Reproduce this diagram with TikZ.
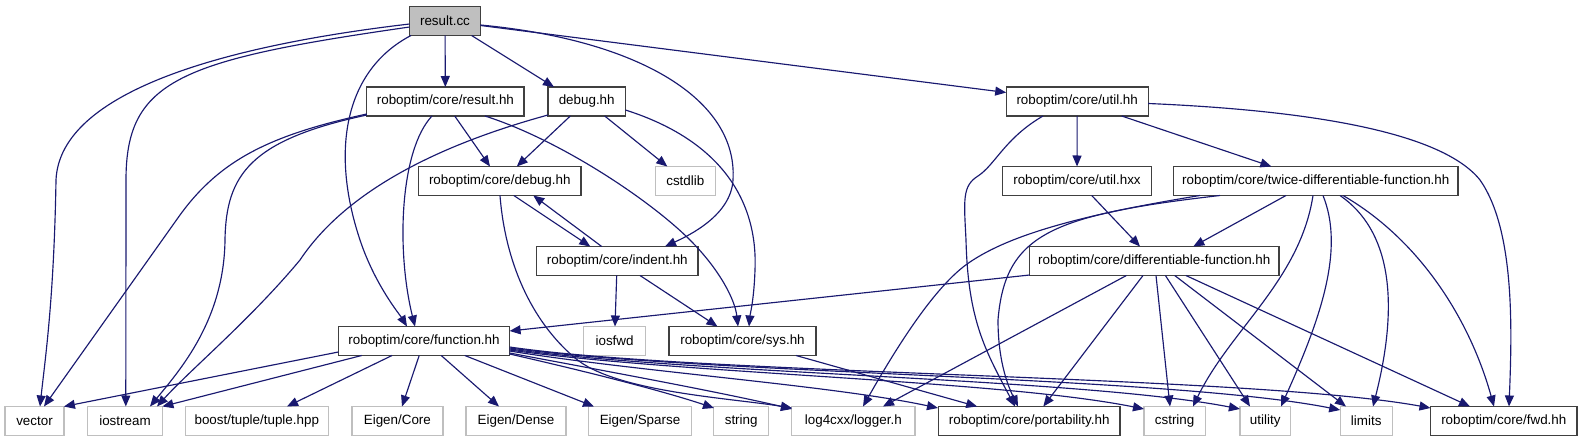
\documentclass[tikz,border=0pt]{standalone}
\usepackage{fontspec}
\setmainfont{Liberation Sans}
\usetikzlibrary{arrows.meta,calc}
\definecolor{edgec}{RGB}{25,25,112}
\definecolor{boxgray}{RGB}{191,191,191}
\definecolor{boxdark}{RGB}{64,64,64}
\begin{document}
\begin{tikzpicture}[x=1pt,y=-1pt,
  every node/.style={font=\fontsize{13.4}{15}\selectfont, inner sep=0pt, outer sep=0pt, minimum height=29pt, line width=1.3pt},
  inc/.style={draw=boxdark, fill=white},
  ext/.style={draw=boxgray, fill=white},
  cur/.style={draw=boxdark, fill=boxgray},
  e/.style={draw=edgec, line width=1.15pt, -{Triangle[length=11pt,width=9pt]}},
]
\fill[white] (0,0) rectangle (1583,443);
\useasboundingbox (0,0) rectangle (1583,443);

% nodes
\node[cur, minimum width=70.7] (rcc) at (445,21) {result.cc};
\node[inc, minimum width=157.2] (resh) at (445.4,101.5) {roboptim/core/result.hh};
\node[inc, minimum width=77.4] (dbg) at (586.7,101.5) {debug.hh};
\node[inc, minimum width=162.6] (cdbg) at (499.8,181) {roboptim/core/debug.hh};
\node[ext, minimum width=60.2] (cstdlib) at (685.3,181) {cstdlib};
\node[inc, minimum width=142] (util) at (1077.2,101.5) {roboptim/core/util.hh};
\node[inc, minimum width=148.5] (uhxx) at (1077,181) {roboptim/core/util.hxx};
\node[inc, minimum width=284.4] (twice) at (1315.8,181) {roboptim/core/twice-differentiable-function.hh};
\node[inc, minimum width=161.6] (indent) at (617.3,261) {roboptim/core/indent.hh};
\node[inc, minimum width=249.2] (diff) at (1154.3,261) {roboptim/core/differentiable-function.hh};
\node[inc, minimum width=171.2] (func) at (424,341) {roboptim/core/function.hh};
\node[ext, minimum width=61.6] (iosfwd) at (614.6,341) {iosfwd};
\node[inc, minimum width=147] (sysh) at (742.5,341) {roboptim/core/sys.hh};
\node[ext, minimum width=58.8] (vector) at (34.5,421) {vector};
\node[ext, minimum width=74.7] (iostream) at (125,421) {iostream};
\node[ext, minimum width=143] (tuple) at (256.8,421) {boost/tuple/tuple.hpp};
\node[ext, minimum width=91] (ecore) at (397.4,421) {Eigen/Core};
\node[ext, minimum width=99.8] (edense) at (516,421) {Eigen/Dense};
\node[ext, minimum width=102.8] (esparse) at (640,421) {Eigen/Sparse};
\node[ext, minimum width=55.2] (string) at (741.2,421) {string};
\node[ext, minimum width=123.4] (log) at (853.3,421) {log4cxx/logger.h};
\node[inc, minimum width=181.6] (port) at (1029.2,421) {roboptim/core/portability.hh};
\node[ext, minimum width=61.2] (cstring) at (1174.6,421) {cstring};
\node[ext, minimum width=50.6] (utility) at (1265.2,421) {utility};
\node[ext, minimum width=52] (limits) at (1366.2,421) {limits};
\node[inc, minimum width=146.6] (fwd) at (1503.8,421) {roboptim/core/fwd.hh};

% result.cc
\draw[e] ($(rcc)+(-35.4,3)$) .. controls (230,45) and (60,90) .. (56,180) .. controls (54,300) and (45,360) .. ($(vector)+(5.5,-14.5)$);
\draw[e] ($(rcc)+(-35.4,6)$) .. controls (180,60) and (126,80) .. (126,180) -- ($(iostream)+(0.8,-14.5)$);
\draw[e] ($(rcc)+(-34,14.5)$) .. controls (345,70) and (330,150) .. (360,240) .. controls (375,285) and (400,315) .. ($(func)+(-17,-14.5)$);
\draw[e] (rcc) -- (resh);
\draw[e] ($(rcc)+(26.6,14.5)$) -- ($(dbg)+(-32.7,-14.5)$);
\draw[e] ($(rcc)+(35.4,4)$) .. controls (640,40) and (738,100) .. (733,180) .. controls (731,215) and (690,235) .. ($(indent)+(47.7,-14.5)$);
\draw[e] (rcc) -- (util);

% result.hh
\draw[e] ($(resh)+(-78.6,12.5)$) .. controls (270,135) and (220,160) .. (180,215) -- ($(vector)+(9.5,-14.5)$);
\draw[e] ($(resh)+(-78.6,13.5)$) .. controls (250,140) and (226,175) .. (225,240) .. controls (224,320) and (180,370) .. ($(iostream)+(25,-14.5)$);
\draw[e] ($(resh)+(-13.4,14.5)$) .. controls (400,150) and (396,250) .. ($(func)+(-9,-14.5)$);
\draw[e] ($(resh)+(9.3,14.5)$) -- ($(cdbg)+(-9.8,-14.5)$);
\draw[e] ($(resh)+(39.6,14.5)$) .. controls (560,140) and (650,200) .. (690,240) .. controls (720,270) and (735,300) .. ($(sysh)+(-4.5,-14.5)$);

% debug.hh
\draw[e] ($(dbg)+(-38.7,13.5)$) .. controls (420,150) and (340,200) .. (300,260) .. controls (250,320) and (190,370) .. ($(iostream)+(32,-14.5)$);
\draw[e] ($(dbg)+(-16.4,14.5)$) -- ($(cdbg)+(17,-14.5)$);
\draw[e] ($(dbg)+(18,14.5)$) -- ($(cstdlib)+(-18,-14.5)$);
\draw[e] ($(dbg)+(38.7,8.5)$) .. controls (720,140) and (758,200) .. (755,270) .. controls (754,300) and (750,315) .. ($(sysh)+(6.5,-14.5)$);

% core/debug.hh and indent.hh
\draw[e] ($(cdbg)+(14,14.5)$) -- ($(indent)+(-27,-14.5)$);
\draw[e] ($(indent)+(-15.6,-14.5)$) -- ($(cdbg)+(33.5,14.5)$);
\draw[e] ($(cdbg)+(0.2,14.5)$) .. controls (505,260) and (530,320) .. (575,358) .. controls (615,392) and (730,398) .. ($(log)+(-61.3,-13)$);
\draw[e] ($(indent)+(-0.6,14.5)$) -- ($(iosfwd)+(0.4,-14.5)$);
\draw[e] ($(indent)+(22.7,14.5)$) -- ($(sysh)+(-25,-14.5)$);
\draw[e] ($(sysh)+(53.5,14.5)$) -- ($(port)+(-52,-14.5)$);

% function.hh
\draw[e] ($(func)+(-85.6,11)$) -- ($(vector)+(29.4,-14.5)$);
\draw[e] ($(func)+(-62.3,14.5)$) -- ($(iostream)+(37.4,-14.5)$);
\draw[e] ($(func)+(-32,14.5)$) -- ($(tuple)+(30.2,-14.5)$);
\draw[e] ($(func)+(-4.8,14.5)$) -- ($(ecore)+(4.6,-14.5)$);
\draw[e] ($(func)+(17.2,14.5)$) -- ($(edense)+(-17,-14.5)$);
\draw[e] ($(func)+(40.8,14.5)$) -- ($(esparse)+(-46,-14.5)$);
\draw[e] ($(func)+(85.6,13)$) .. controls (580,370) and (660,390) .. ($(string)+(-27.2,-13)$);
\draw[e] ($(func)+(85.6,12)$) .. controls (600,370) and (720,392) .. ($(log)+(-61.3,-12)$);
\draw[e] ($(func)+(85.6,10)$) .. controls (640,372) and (830,385) .. ($(port)+(-91.2,-13)$);
\draw[e] ($(func)+(85.6,9)$) .. controls (680,374) and (1000,380) .. ($(cstring)+(-30.6,-12)$);
\draw[e] ($(func)+(85.6,8)$) .. controls (690,374) and (1080,378) .. ($(utility)+(-25.3,-12)$);
\draw[e] ($(func)+(85.6,7)$) .. controls (700,374) and (1170,376) .. ($(limits)+(-26,-11)$);
\draw[e] ($(func)+(85.6,6)$) .. controls (700,375) and (1250,375) .. ($(fwd)+(-73.3,-13)$);

% util.hh
\draw[e] ($(util)+(-34.2,14.5)$) .. controls (1005,138) and (995,165) .. (978,176) .. controls (962,186) and (964,200) .. (966,240) .. controls (968,320) and (985,350) .. ($(port)+(-14.2,-14.5)$);
\draw[e] (util) -- (uhxx);
\draw[e] ($(util)+(44.5,14.5)$) -- ($(twice)+(-44.4,-14.5)$);
\draw[e] ($(util)+(71,2)$) .. controls (1300,110) and (1440,130) .. (1480,180) .. controls (1515,230) and (1512,330) .. ($(fwd)+(5.2,-14.5)$);
\draw[e] ($(uhxx)+(14.7,14.5)$) -- ($(diff)+(-14.3,-14.5)$);

% twice-differentiable-function.hh
\draw[e] ($(twice)+(-115.8,14.5)$) .. controls (1080,215) and (1010,235) .. (970,262) .. controls (935,285) and (895,350) .. ($(log)+(9.7,-14.5)$);
\draw[e] ($(twice)+(-95.8,14.5)$) .. controls (1050,215) and (1005,235) .. (998,320) .. controls (998,365) and (1010,390) .. ($(port)+(-11.2,-14.5)$);
\draw[e] ($(twice)+(-29.8,14.5)$) -- ($(diff)+(39,-14.5)$);
\draw[e] ($(twice)+(-2.8,14.5)$) .. controls (1300,280) and (1230,330) .. ($(cstring)+(18.4,-14.5)$);
\draw[e] ($(twice)+(7.2,14.5)$) .. controls (1345,250) and (1320,320) .. ($(utility)+(15.8,-14.5)$);
\draw[e] ($(twice)+(24.2,14.5)$) .. controls (1390,230) and (1400,300) .. ($(limits)+(6.8,-14.5)$);
\draw[e] ($(twice)+(27.2,14.5)$) .. controls (1420,240) and (1470,320) .. ($(fwd)+(-9.8,-14.5)$);

% differentiable-function.hh
\draw[e] ($(diff)+(-124.6,14)$) -- ($(func)+(85.6,-10)$);
\draw[e] ($(diff)+(-27.9,14.5)$) -- ($(log)+(29.7,-14.5)$);
\draw[e] ($(diff)+(-11.3,14.5)$) -- ($(port)+(14.1,-14.5)$);
\draw[e] ($(diff)+(1.7,14.5)$) -- ($(cstring)+(-4.6,-14.5)$);
\draw[e] ($(diff)+(11.1,14.5)$) -- ($(utility)+(-15.2,-14.5)$);
\draw[e] ($(diff)+(20.4,14.5)$) -- ($(limits)+(-20.2,-14.5)$);
\draw[e] ($(diff)+(31.6,14.5)$) -- ($(fwd)+(-33.8,-14.5)$);
\end{tikzpicture}
\end{document}
